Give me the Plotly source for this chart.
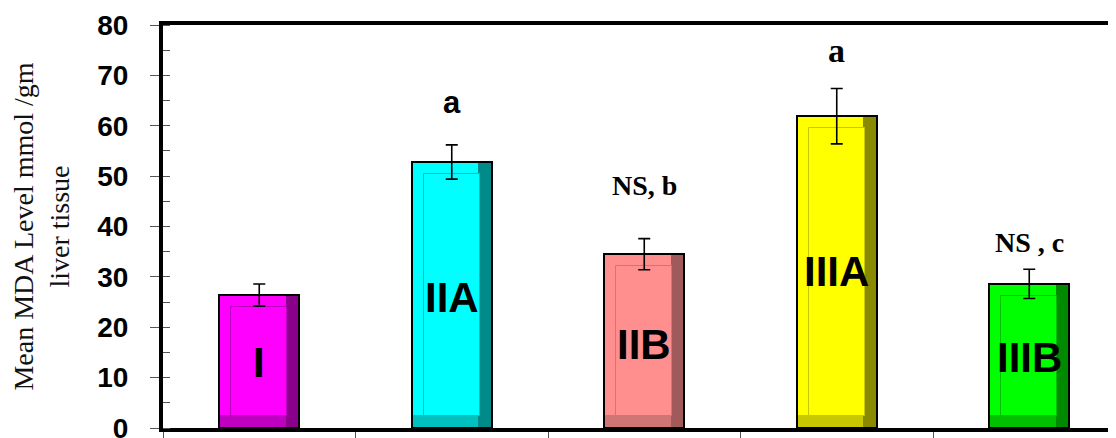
import plotly.graph_objects as go

# ---- data ----
categories = ["I", "IIA", "IIB", "IIIA", "IIIB"]
means = [26.4, 52.8, 34.5, 61.9, 28.6]
errors = [2.2, 3.4, 3.1, 5.5, 2.9]
signif = ["", "a", "NS, b", "a", "NS , c"]
y_ticks = [0, 10, 20, 30, 40, 50, 60, 70, 80]

# ---- style ----
main_colors = ["#FF00FF", "#00FFFF", "#FF8F8F", "#FFFF00", "#00FF00"]
dark_colors = ["#8A008A", "#008A8A", "#A05A5A", "#8A8A00", "#008A00"]
mid_colors = ["#C000C0", "#00C0C0", "#D07575", "#C8C800", "#00C000"]
label_y = [13.1, 26.0, 16.5, 31.0, 13.9]
signif_y = [0, 64.7, 48.2, 75.0, 36.9]
signif_fonts = ["", "Liberation Sans", "Liberation Serif", "Liberation Serif", "Liberation Serif"]
signif_sizes = [0, 31, 28, 34, 28]

x = list(range(len(categories)))
BW = 0.415          # bar width (category units)
BEV_X = 0.063       # bevel width (category units)
BEV_Y = 2.4         # bevel height (value units)

fig = go.Figure()

# outer bar (main colour, black outline)
fig.add_trace(go.Bar(
    x=x, y=means, width=BW, marker=dict(color=main_colors, line=dict(color="black", width=2)),
    showlegend=False, hoverinfo="skip"))
# bottom bevel (mid shade)
fig.add_trace(go.Bar(
    x=x, y=[BEV_Y] * len(x), base=[0.2] * len(x), width=BW - 0.012,
    marker=dict(color=mid_colors, line=dict(width=0)),
    showlegend=False, hoverinfo="skip"))
# right bevel (dark shade)
fig.add_trace(go.Bar(
    x=x, y=[m - 0.4 for m in means], base=[0.2] * len(x), width=BEV_X,
    offset=BW / 2 - BEV_X - 0.006,
    marker=dict(color=dark_colors, line=dict(width=0)),
    showlegend=False, hoverinfo="skip"))
# inner face
fig.add_trace(go.Bar(
    x=x, y=[m - 2 * BEV_Y for m in means], base=[BEV_Y] * len(x), width=BW - 2 * BEV_X,
    marker=dict(color=main_colors, line=dict(color=mid_colors, width=1)),
    showlegend=False, hoverinfo="skip"))
# error bars
fig.add_trace(go.Scatter(
    x=x, y=means, mode="markers", marker=dict(size=0.1, color="rgba(0,0,0,0)"),
    error_y=dict(type="data", array=errors, visible=True, color="black", thickness=1.6, width=6),
    showlegend=False, hoverinfo="skip"))

annotations = []
for i, c in enumerate(categories):
    annotations.append(dict(
        x=x[i], y=label_y[i], xref="x", yref="y", text="<b>%s</b>" % c, showarrow=False,
        font=dict(family="Liberation Sans, Arial", size=42, color="black")))
    if signif[i]:
        annotations.append(dict(
            x=x[i], y=signif_y[i], xref="x", yref="y", text="<b>%s</b>" % signif[i], showarrow=False,
            font=dict(family=signif_fonts[i], size=signif_sizes[i], color="black")))

fig.update_layout(
    width=1108, height=438,
    margin=dict(l=155, r=0, t=17, b=18, autoexpand=False),
    paper_bgcolor="white", plot_bgcolor="white",
    barmode="overlay", bargap=0,
    annotations=annotations,
    font=dict(family="Liberation Sans, Arial", color="black"),
    xaxis=dict(
        range=[-0.5, -0.5 + 953 / 192.5],
        tickvals=[-0.5, 0.5, 1.5, 2.5, 3.5, 4.5], ticktext=[""] * 6,
        ticks="outside", ticklen=8, tickcolor="#555555", tickwidth=1,
        showline=True, linecolor="black", linewidth=4, mirror=True,
        showgrid=False, zeroline=False, automargin=False),
    yaxis=dict(
        range=[0, 80], tickvals=y_ticks,
        ticks="outside", ticklen=9, tickcolor="#555555", tickwidth=1,
        ticklabelstandoff=16,
        tickfont=dict(family="Liberation Sans, Arial", size=28, color="black", weight="bold"),
        minor=dict(dtick=5, ticks="inside", ticklen=7, tickcolor="#555555", tickwidth=1),
        showline=True, linecolor="black", linewidth=4, mirror=False,
        showgrid=False, zeroline=False, automargin=False,
        title=dict(text="Mean MDA Level mmol /gm<br>liver tissue", standoff=24,
                   font=dict(family="Liberation Serif, Times New Roman", size=28, color="#111111"))),
)

fig.write_html("out.html")
